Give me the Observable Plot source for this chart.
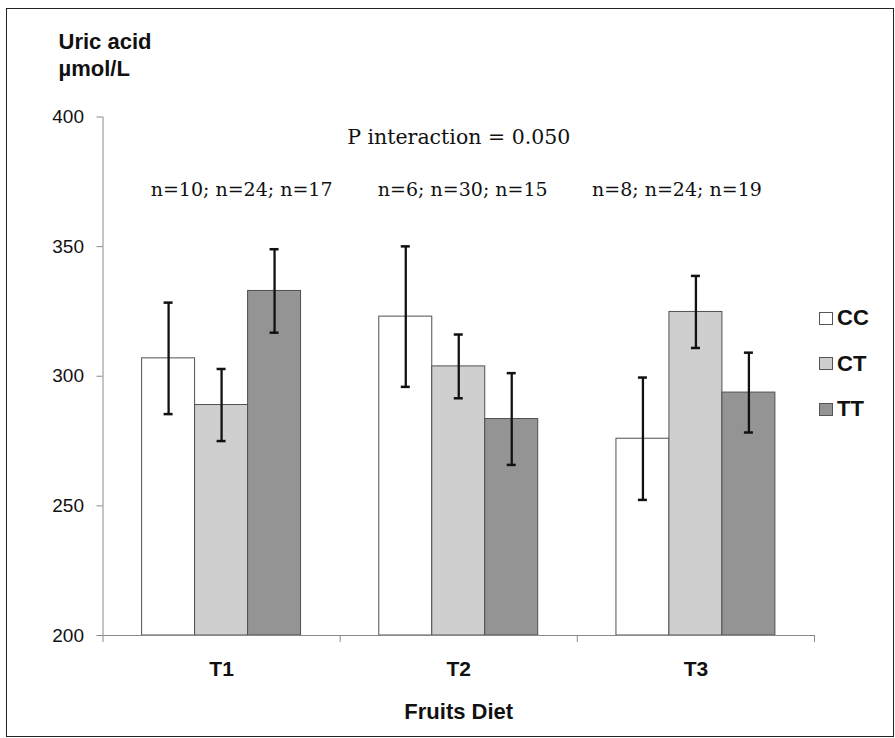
<!DOCTYPE html>
<html><head><meta charset="utf-8">
<script src="https://cdn.jsdelivr.net/npm/d3@7"></script>
<script src="https://cdn.jsdelivr.net/npm/@observablehq/plot@0.6"></script>
<style>
body{margin:0;background:#fff;}
#wrap{position:relative;width:895px;height:738px;overflow:hidden;}
#border{position:absolute;left:6px;top:7.5px;width:888px;height:729px;border:1.5px solid #222;box-sizing:border-box;pointer-events:none;}
#legend{position:absolute;left:819px;top:311.5px;font-family:"Liberation Sans",Arial,sans-serif;font-size:22px;font-weight:bold;color:#111;}
#legend .item{position:absolute;left:0;display:flex;align-items:center;white-space:nowrap;height:13px;}
#legend .sw{display:inline-block;width:12px;height:11px;border:1px solid #555;margin-right:4px;}
svg{position:absolute;left:0;top:0;}
</style></head><body>
<div id="wrap"><div id="border"></div><div id="legend"></div></div>
<script>
// ---- data ----
const groups = ["T1", "T2", "T3"];
const genotypes = ["CC", "CT", "TT"];
const meanCC = [306.9, 323.0, 275.9];
const meanCT = [288.9, 303.8, 324.8];
const meanTT = [332.9, 283.5, 293.7];
const seCC = [21.5, 27.1, 23.6];
const seCT = [13.9, 12.3, 13.9];
const seTT = [16.1, 17.7, 15.4];
const nLabels = ["n=10; n=24; n=17", "n=6; n=30; n=15", "n=8; n=24; n=19"];
const yTicks = [200, 250, 300, 350, 400];
const pLabel = "P interaction = 0.050";
const yTitle = "Uric acid\nµmol/L";
const xTitle = "Fruits Diet";
const colors = ["#ffffff", "#cfcfcf", "#949494"];

// ---- table ----
const means = [meanCC, meanCT, meanTT];
const ses = [seCC, seCT, seTT];
const barW = 0.2234;                 // bar width as fraction of a group band
const start = (1 - 3 * barW) / 2;
const rows = [];
groups.forEach((g, gi) => genotypes.forEach((gt, k) => {
  const x1 = gi + start + k * barW;
  rows.push({group: g, genotype: gt, x1, x2: x1 + barW, xc: x1 + barW / 2,
             mean: means[k][gi], lo: means[k][gi] - ses[k][gi], hi: means[k][gi] + ses[k][gi]});
}));
const caps = rows.flatMap(r => [{xc: r.xc, y: r.lo}, {xc: r.xc, y: r.hi}]);
const cap = 0.019;
const nShift = [20, 4, -19];   // label offsets (px) as in the original text box

const sans = "Liberation Sans, Arial, sans-serif";
const serif = "DejaVu Serif, serif";

const chart = Plot.plot({
  width: 895, height: 738,
  marginLeft: 102.5, marginRight: 81, marginTop: 116.5, marginBottom: 103,
  style: {background: "transparent", overflow: "visible"},
  x: {type: "linear", domain: [0, 3]},
  y: {domain: [yTicks[0], yTicks[yTicks.length - 1]]},
  color: {domain: genotypes, range: colors},
  marks: [
    Plot.rect(rows, {x1: "x1", x2: "x2", y1: () => yTicks[0], y2: "mean", fill: "genotype", stroke: "#505050", strokeWidth: 1}),
    Plot.ruleX(rows, {x: "xc", y1: "lo", y2: "hi", stroke: "#111", strokeWidth: 2.3}),
    Plot.ruleY(caps, {y: "y", x1: d => d.xc - cap, x2: d => d.xc + cap, stroke: "#111", strokeWidth: 2.5}),
    Plot.ruleY([yTicks[0]], {stroke: "#8a8a8a"}),
    Plot.ruleX([0], {y1: yTicks[0], y2: yTicks[yTicks.length - 1], stroke: "#8a8a8a"}),
    Plot.axisY({ticks: yTicks, tickSize: 6, tickPadding: 13, stroke: "#8a8a8a", fill: "#111", fontSize: 19, fontFamily: sans, label: null}),
    Plot.axisX({ticks: [0, 1, 2, 3], tickSize: 7, tickFormat: () => "", stroke: "#8a8a8a", label: null}),
    Plot.axisX({ticks: [0.5, 1.5, 2.5], tickSize: 0, tickPadding: 26, tickFormat: d => groups[Math.floor(d)], fill: "#111", fontSize: 21, fontWeight: "bold", fontFamily: sans, label: null}),
    Plot.text([xTitle], {frameAnchor: "bottom", dy: 83, lineAnchor: "bottom", fontSize: 22, fontWeight: "bold", fontFamily: sans, fill: "#111"}),
    Plot.text([yTitle], {frameAnchor: "top-left", dx: -44.5, dy: -87.5, textAnchor: "start", lineAnchor: "top", lineHeight: 1.23, fontSize: 22, fontWeight: "bold", fontFamily: sans, fill: "#111"}),
    Plot.text([pLabel], {frameAnchor: "top", dy: 27, lineAnchor: "bottom", fontSize: 20.5, fontFamily: serif, fill: "#111"}),
    ...nLabels.map((t, i) => Plot.text([t], {x: i + 0.5, frameAnchor: "top", dx: nShift[i], dy: 79, lineAnchor: "bottom", fontSize: 19, fontFamily: serif, fill: "#111"}))
  ]
});
document.getElementById("wrap").appendChild(chart);

const legend = document.getElementById("legend");
genotypes.forEach((g, i) => {
  const item = document.createElement("div");
  item.className = "item";
  item.style.top = (i * 45.5) + "px";
  item.innerHTML = `<span class="sw" style="background:${colors[i]}"></span><span>${g}</span>`;
  legend.appendChild(item);
});
</script>
</body></html>
